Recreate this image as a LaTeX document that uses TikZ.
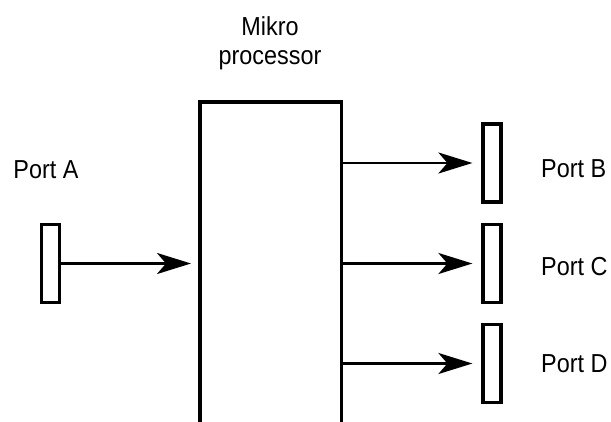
\documentclass[tikz,border=0pt]{standalone}
\usepackage{fontspec}
\setmainfont[FakeStretch=0.9]{Liberation Sans}
\usetikzlibrary{arrows.meta}
\begin{document}
\begin{tikzpicture}[x=1pt,y=-1pt,
  portbox/.style={draw=black,line width=3.2pt,minimum width=18pt,minimum height=78pt,inner sep=0pt},
  conn/.style={line width=2.8pt,-{Stealth[length=34pt,width=21pt,inset=9pt]},shorten >=9pt},
  lbl/.style={font=\fontsize{26}{29}\selectfont,inner sep=0pt},
  wall/.style={line width=3.2pt,line cap=butt}
]
\useasboundingbox (0,0) rectangle (611,421);
% processor (open at the bottom)
\node[minimum width=141pt,minimum height=330pt,inner sep=0pt,anchor=north west] (proc) at (200,102) {};
\draw[wall] (proc.south west) -- (proc.north west) -- (proc.north east) -- (proc.south east);
% ports
\node[portbox] (pA) at (50.5,263.5) {};
\node[portbox] (pB) at (492,163) {};
\node[portbox] (pC) at (492,263.5) {};
\node[portbox] (pD) at (492,363.5) {};
% connectors
\draw[conn] (pA.east) -- (proc.west |- pA.east);
\draw[conn] (proc.east |- pB.west) -- (pB.west);
\draw[conn] (proc.east |- pC.west) -- (pC.west);
\draw[conn] (proc.east |- pD.west) -- (pD.west);
% labels
\node[lbl,anchor=base] (tA) at (46,178) {Port A};
\node[lbl,anchor=base west] (tB) at (541,177) {Port B};
\node[lbl,anchor=base west] (tC) at (541,275) {Port C};
\node[lbl,anchor=base west] (tD) at (541,372) {Port D};
\node[lbl,align=center] (tP) at (270,43) {Mikro\\processor};
\end{tikzpicture}
\end{document}
